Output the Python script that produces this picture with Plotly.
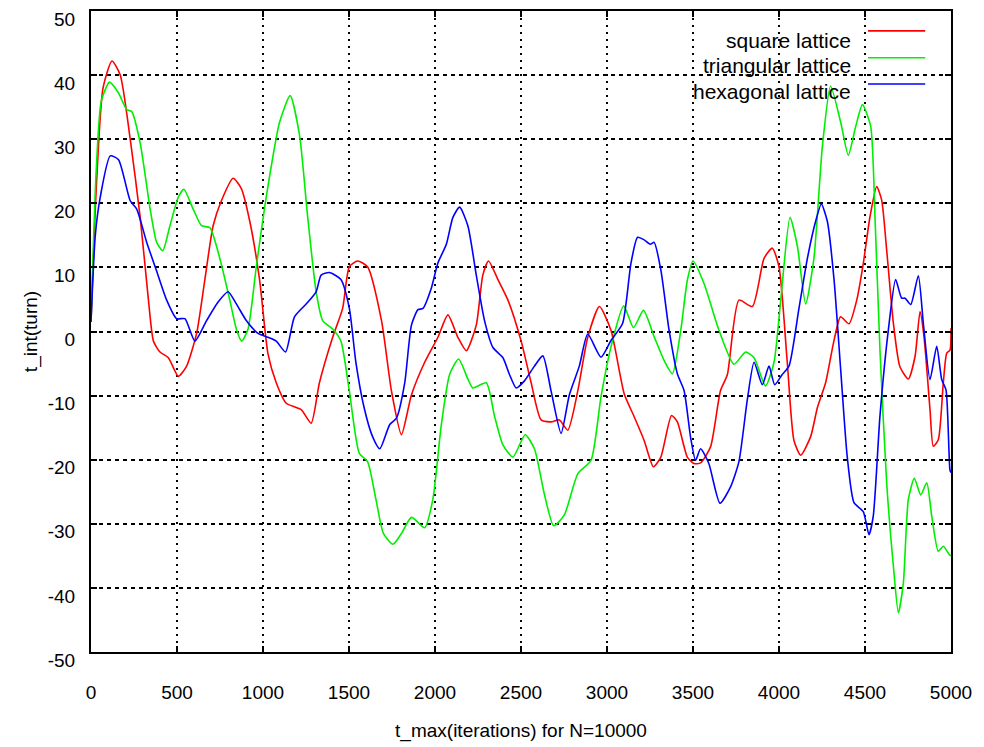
import plotly.graph_objects as go

# ---------------- data ----------------
series_names = ["square lattice", "triangular lattice", "hexagonal lattice"]
series_colors = ["#ff0000", "#00ee00", "#0000ff"]

square_x = [0, 30, 70, 122, 170, 228, 286, 334, 363, 401, 450, 508, 556, 614, 662, 710, 758, 826, 874, 923,
            980, 1029, 1077, 1135, 1222, 1280, 1328, 1405, 1463, 1502, 1550, 1608, 1689, 1747, 1805, 1863,
            1940, 2017, 2075, 2133, 2182, 2240, 2278, 2311, 2366, 2424, 2501, 2559, 2617, 2675, 2723, 2772,
            2830, 2888, 2956, 3023, 3100, 3158, 3216, 3270, 3313, 3375, 3409, 3467, 3506, 3544, 3602, 3660,
            3700, 3767, 3845, 3913, 3961, 4000, 4048, 4087, 4126, 4184, 4223, 4271, 4319, 4358, 4407, 4452,
            4490, 4529, 4568, 4597, 4626, 4665, 4703, 4752, 4791, 4820, 4843, 4878, 4897, 4926, 4955, 4975,
            4994, 5000]
square_y = [1.5, 22, 38, 42.2, 40, 30, 17.8, 4.9, -1.5, -3.2, -4.1, -7.0, -5.4, -0.3, 8.1, 16.5, 20.4, 23.9,
            22.3, 17.2, 8.1, -3.5, -8, -11.2, -12.2, -14.3, -8, -0.9, 3.6, 10.1, 11.0, 10.1, 1.7, -9.3, -16.1,
            -9.9, -4.8, -0.9, 2.6, -0.9, -3.0, 1.0, 8.8, 11.0, 8.1, 4.9, -1.5, -8, -13.8, -14.1, -13.8, -15.4,
            -9.3, -0.9, 3.9, 0.2, -9.7, -13.3, -17, -21.1, -19.6, -13.1, -14.1, -19.6, -20.6, -20.5, -18, -9.2,
            -6.7, 4.9, 3.9, 11.4, 13.0, 10.1, -4.8, -17.0, -19.3, -16.4, -11.9, -8, -1.5, 2.3, 1.2, 4.9, 10.6,
            17.9, 22.6, 20.5, 12.7, 1.3, -5.5, -7.4, -3.9, 3.1, -0.8, -12.2, -17.9, -16.9, -8.1, -3.4, -2.9, 0.5]

triangular_x = [0, 30, 60, 108, 160, 208, 237, 286, 344, 382, 417, 459, 508, 540, 594, 643, 691, 749, 807, 845,
                876, 913, 961, 1019, 1096, 1158, 1212, 1260, 1309, 1347, 1405, 1453, 1502, 1560, 1608, 1656,
                1700, 1756, 1805, 1863, 1940, 1988, 2037, 2085, 2137, 2191, 2220, 2298, 2346, 2395, 2453, 2524,
                2578, 2636, 2690, 2752, 2830, 2907, 2965, 3023, 3097, 3154, 3212, 3274, 3332, 3380, 3429, 3467,
                3500, 3564, 3651, 3738, 3806, 3855, 3922, 3971, 4010, 4064, 4107, 4155, 4203, 4252, 4300, 4359,
                4403, 4446, 4485, 4533, 4558, 4587, 4626, 4665, 4694, 4723, 4752, 4787, 4824, 4859, 4888, 4926,
                4955, 4990, 5000]
triangular_y = [1.5, 25, 36, 38.9, 37.2, 34.6, 34.3, 29.4, 19.1, 13.9, 12.6, 16.5, 21.0, 22.2, 19.1, 16.5, 16.2,
                11.4, 4.9, 0.4, -1.5, 0.4, 10.1, 21.0, 32.6, 36.8, 30.7, 17.8, 6.2, 1.7, 0.4, -1.5, -9.3, -19.0,
                -20.3, -26.1, -31.5, -33.2, -31.5, -29.0, -30.6, -26.1, -14.5, -6.7, -4.3, -7.4, -8.8, -8, -13.2,
                -17.7, -19.6, -16.1, -18.3, -25.4, -30.3, -28.6, -22.2, -20.1, -10.2, -2.4, 4.0, 0.6, 3.3, -0.8,
                -4.5, -6.6, 0.2, 8.0, 11.0, 7.5, 0.2, -5.1, -3.2, -4.1, -8.5, -4.8, 4.9, 17.8, 13.3, 4.3, 11.4,
                28.8, 38.3, 32.6, 27.5, 32.0, 35.4, 32.0, 17.9, -2.9, -23.6, -36.6, -43.9, -39.2, -26.2, -22.9,
                -25.5, -23.6, -28.8, -34.3, -33.5, -34.8, -35]

hexagonal_x = [0, 25, 54, 112, 160, 228, 266, 324, 382, 440, 498, 546, 604, 672, 739, 797, 845, 903, 971, 1029,
               1077, 1131, 1183, 1251, 1309, 1338, 1386, 1453, 1502, 1540, 1588, 1637, 1679, 1737, 1776, 1824,
               1863, 1901, 1930, 1979, 2017, 2066, 2104, 2143, 2191, 2240, 2288, 2337, 2395, 2433, 2472, 2520,
               2578, 2627, 2675, 2733, 2781, 2839, 2888, 2965, 3023, 3091, 3139, 3178, 3216, 3251, 3274, 3313,
               3361, 3409, 3448, 3486, 3515, 3544, 3592, 3657, 3719, 3767, 3816, 3855, 3903, 3942, 3975, 4019,
               4058, 4116, 4165, 4213, 4246, 4281, 4320, 4359, 4397, 4436, 4490, 4523, 4548, 4587, 4636, 4678,
               4713, 4733, 4766, 4810, 4839, 4878, 4917, 4946, 4971, 4994, 5000]
hexagonal_y = [1.5, 15, 21, 27.4, 26.8, 20.4, 19.1, 13.9, 9.4, 4.9, 2.0, 2.0, -1.5, 1.7, 4.6, 6.2, 4.3, 1.7,
               -0.3, -0.9, -1.5, -3.2, 2.3, 4.3, 6.2, 8.8, 9.2, 8.1, 3.6, -4.8, -11.9, -16.4, -18.3, -14.5, -13.5,
               -8, 1.0, 3.4, 3.6, 6.8, 10.7, 13.6, 17.8, 19.4, 16.5, 8.8, 1.7, -2.5, -4.1, -6.7, -8.8, -7.7, -5.4,
               -3.8, -9.3, -15.9, -9.9, -5.4, -0.4, -4.0, -1.4, 1.3, 10.6, 14.7, 14.3, 13.6, 13.9, 9.6, 0.2, -6.6,
               -9.2, -16.5, -20.1, -18.3, -20.6, -26.8, -24.2, -20.3, -10.6, -4.8, -8.3, -5.4, -8.3, -6.7, -5.4,
               3.6, 11.4, 17.2, 19.9, 17.2, 8.1, -6.1, -19.6, -26.7, -28.1, -31.7, -28.8, -13.2, 0.3, 8.1, 5.2,
               5.2, 4.2, 8.7, 1.3, -7.5, -2.3, -7.5, -9.1, -21.6, -22]

x_ticks = [0, 500, 1000, 1500, 2000, 2500, 3000, 3500, 4000, 4500, 5000]
y_ticks = [-50, -40, -30, -20, -10, 0, 10, 20, 30, 40, 50]

x_title = "t_max(iterations) for N=10000"
y_title = "t_int(turn)"

# ---------------- figure ----------------
FONT = "Liberation Sans, Arial, sans-serif"
fig = go.Figure()

xs = [square_x, triangular_x, hexagonal_x]
ys = [square_y, triangular_y, hexagonal_y]
for name, col, xv, yv in zip(series_names, series_colors, xs, ys):
    fig.add_trace(go.Scatter(x=xv, y=yv, mode="lines", name=name,
                             line=dict(color=col, width=1.6, shape="spline", smoothing=0.6),
                             showlegend=False))

# white legend box (hides gridlines, below traces)
fig.add_shape(type="rect", xref="paper", yref="paper", x0=0.623, x1=0.984, y0=0.864, y1=1.0,
              fillcolor="white", line=dict(width=0), layer="between")

# manual legend: text right-aligned, line sample to the right
text_y = [0.954, 0.915, 0.874]
line_y = [0.969, 0.927, 0.886]
for name, col, ty, ly in zip(series_names, series_colors, text_y, line_y):
    fig.add_annotation(xref="paper", yref="paper", x=0.886, y=ty, text=name, showarrow=False,
                       xanchor="right", yanchor="middle", font=dict(family=FONT, size=21, color="black"))
    fig.add_shape(type="line", xref="paper", yref="paper", x0=0.9035, x1=0.970, y0=ly, y1=ly,
                  line=dict(color=col, width=1.6), layer="above")

axis_common = dict(showline=True, linecolor="black", linewidth=2, mirror="ticks",
                   ticks="inside", tickcolor="black", ticklen=6, tickwidth=1.5,
                   showgrid=True, gridcolor="black", gridwidth=1.5, zeroline=False,
                   tickfont=dict(family=FONT, size=19, color="black"))

fig.update_xaxes(range=[0, 5000], tickvals=x_ticks, ticktext=[str(v) for v in x_ticks],
                 griddash="2px,5px", ticklabelstandoff=22,
                 title=dict(text=x_title, font=dict(family=FONT, size=19, color="black"), standoff=22),
                 **axis_common)
fig.update_yaxes(range=[-50, 50], tickvals=y_ticks, ticktext=[str(v) for v in y_ticks],
                 griddash="4px,4px", ticklabelstandoff=10, ticklabelshift=8,
                 title=dict(text=y_title, font=dict(family=FONT, size=19, color="black"), standoff=5),
                 **axis_common)

fig.update_layout(width=984, height=747, margin=dict(l=91, r=33, t=11, b=95, autoexpand=False),
                  paper_bgcolor="white", plot_bgcolor="white", showlegend=False)

fig.write_html("out.html")
